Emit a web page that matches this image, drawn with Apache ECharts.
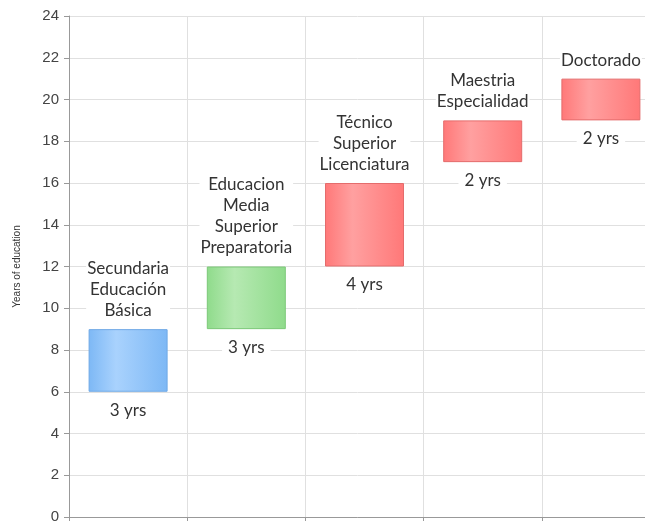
<!DOCTYPE html>
<html><head><meta charset="utf-8">
<script src="https://cdn.jsdelivr.net/npm/echarts@6/dist/echarts.min.js"></script>
<style>html,body{margin:0;padding:0;background:#fff;overflow:hidden}#c{width:645px;height:521px}</style>
</head><body><div id="c"></div>
<script>
const categories = ["Secundaria\nEducación\nBásica", "Educacion\nMedia\nSuperior\nPreparatoria", "Técnico\nSuperior\nLicenciatura", "Maestria\nEspecialidad", "Doctorado"];
const startYears = [6, 9, 12, 17, 19];
const durations = [3, 3, 4, 2, 2];
const durationLabels = ["3 yrs", "3 yrs", "4 yrs", "2 yrs", "2 yrs"];
const yTicks = [0, 24, 2];

function grad(edge, mid) {
  return new echarts.graphic.LinearGradient(0, 0, 1, 0, [
    {offset: 0, color: edge}, {offset: 0.35, color: mid}, {offset: 1, color: edge}
  ]);
}
const palette = [
  {fill: grad('#7db8f5', '#a9d2fd'), border: '#6fa9e6'},
  {fill: grad('#8fdb8b', '#b6e9b2'), border: '#7cc878'},
  {fill: grad('#ff7878', '#ffa0a0'), border: '#e46c6c'},
  {fill: grad('#ff7878', '#ffa0a0'), border: '#e46c6c'},
  {fill: grad('#ff7878', '#ffa0a0'), border: '#e46c6c'}
];

const chart = echarts.init(document.getElementById('c'), null, {renderer: 'canvas'});
const font = 'Lato';
chart.setOption({
  animation: false,
  grid: {left: 69, top: 16, width: 591, height: 501, containLabel: false, outerBoundsMode: 'none'},
  xAxis: {
    type: 'category', data: categories,
    axisLine: {lineStyle: {color: '#999'}},
    axisTick: {show: true, length: 5, lineStyle: {color: '#999'}},
    axisLabel: {show: false},
    splitLine: {show: true, lineStyle: {color: '#e0e0e0'}}
  },
  yAxis: {
    type: 'value', min: yTicks[0], max: yTicks[1], interval: yTicks[2],
    name: 'Years of education', nameLocation: 'middle', nameGap: 47,
    nameTextStyle: {fontSize: 10, color: '#333', fontFamily: 'Liberation Sans'},
    axisLine: {show: true, lineStyle: {color: '#999'}},
    axisTick: {show: true, length: 5, lineStyle: {color: '#999'}},
    axisLabel: {fontSize: 15, color: '#444', fontFamily: 'Liberation Sans', margin: 10},
    splitLine: {lineStyle: {color: '#e0e0e0'}}
  },
  series: [
    {
      type: 'bar', stack: 's', barWidth: 79, silent: true,
      data: startYears.map((v, i) => ({
        value: v,
        label: {formatter: durationLabels[i]}
      })),
      itemStyle: {color: 'transparent'},
      label: {
        show: true, position: 'insideTop', distance: 9,
        fontSize: 17, color: '#333', fontFamily: font,
        backgroundColor: '#fff', padding: [1, 6]
      }
    },
    {
      type: 'bar', stack: 's', barWidth: 79,
      data: durations.map((v, i) => ({
        value: v,
        itemStyle: {color: palette[i].fill, borderColor: palette[i].border, borderWidth: 1}
      })),
      label: {
        show: true, position: 'top', distance: 8,
        formatter: p => categories[p.dataIndex],
        fontSize: 17, lineHeight: 21, color: '#333', fontFamily: font,
        align: 'center', backgroundColor: '#fff', padding: [0, 1]
      }
    }
  ]
});
</script></body></html>
